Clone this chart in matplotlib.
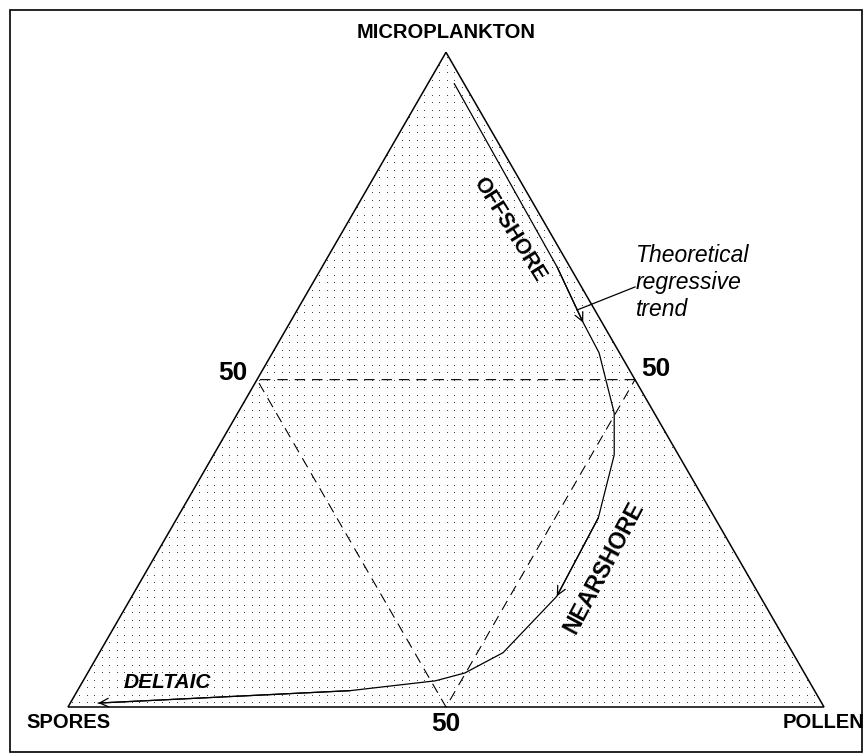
import numpy as np
import matplotlib
matplotlib.use("Agg")
import matplotlib.pyplot as plt
from matplotlib.patches import Polygon, Rectangle

plt.rcParams['font.family'] = ['Liberation Sans', 'DejaVu Sans']
plt.rcParams['lines.scale_dashes'] = False

# Ternary end members (apex, left, right)
apex_label = "MICROPLANKTON"
left_label = "SPORES"
right_label = "POLLEN"

# Theoretical regressive trend, % microplankton / % pollen (spores = rest)
trend_micro = [95.2, 67.2, 58.7, 54.1, 44.9, 38.5, 28.9, 16.9, 8.3, 5.2, 4.0, 2.5, 0.6]
trend_pollen = [3.5, 31.1, 38.8, 43.2, 49.8, 53.0, 55.7, 56.2, 53.4, 49.9, 46.6, 36.1, 3.7]
arrow_at = [2, 7, 12]

# 50 % lines between the side midpoints
mid_micro = [50, 50, 0, 50]
mid_pollen = [50, 0, 50, 50]

H = np.sqrt(3) / 2


def to_xy(micro, pollen):
    m = np.asarray(micro, float) / 100
    p = np.asarray(pollen, float) / 100
    return p + 0.5 * m, H * m


fig = plt.figure(figsize=(8.68, 7.55), dpi=100)
ax = fig.add_axes([0, 0, 1, 1])
ax.set_xlim(-68 / 756, 800 / 756)
ax.set_ylim(-48 / 756, 707 / 756)
ax.axis('off')

# outer frame
fig.patches.append(Rectangle((9.5 / 868, 3 / 755), (862 - 9.5) / 868, (745.5 - 3) / 755,
                             transform=fig.transFigure, fill=False, lw=1.2, ec='black'))

# triangle with dotted fill
tri = Polygon([[0, 0], [1, 0], [0.5, H]], closed=True, fill=False, ec='black', lw=1.1, zorder=3)
ax.add_patch(tri)
clip = Polygon([[0, 0], [1, 0], [0.5, H]], closed=True, transform=ax.transData)
step = 7.5 / 756
gx, gy = np.meshgrid(np.arange(step / 2, 1, step), np.arange(step / 2, H, step))
dots, = ax.plot(gx.ravel(), gy.ravel(), ',', color='#444444', zorder=1)
dots.set_clip_path(clip)

# dashed 50 % lines
mx, my = to_xy(mid_micro, mid_pollen)
ax.plot(mx, my, color='black', lw=0.8, dashes=(7.5, 5), zorder=2)

# trend curve and arrowheads
tx, ty = to_xy(trend_micro, trend_pollen)
ax.plot(tx, ty, color='black', lw=0.9, zorder=4)
for i in arrow_at:
    ax.annotate("", xy=(tx[i], ty[i]), xytext=(tx[i - 1], ty[i - 1]),
                arrowprops=dict(arrowstyle='->,head_length=0.45,head_width=0.22',
                                lw=0.9, color='black', shrinkA=0, shrinkB=0,
                                mutation_scale=14), zorder=4)

# vertex labels
ax.text(0.5, H + 0.026, apex_label, ha='center', va='center', fontsize=14.5, fontweight='bold')
ax.text(0, -0.021, left_label, ha='center', va='center', fontsize=14.5, fontweight='bold')
ax.text(1, -0.021, right_label, ha='center', va='center', fontsize=14.5, fontweight='bold')

# 50 % tick labels
ax.text(0.5, -0.022, "50", ha='center', va='center', fontsize=19, fontweight='bold')
ax.text(0.238, 0.442, "50", ha='right', va='center', fontsize=19, fontweight='bold')
ax.text(0.758, 0.447, "50", ha='left', va='center', fontsize=19, fontweight='bold')

# environment labels
ax.text(0.5833, 0.631, "OFFSHORE", rotation=-58, ha='center', va='center',
        fontsize=15.5, fontweight='bold', rotation_mode='anchor')
ax.text(0.709, 0.184, "NEARSHORE", rotation=62, ha='center', va='center',
        fontsize=16.5, fontweight='bold', rotation_mode='anchor')
ax.text(0.131, 0.032, "DELTAIC", ha='center', va='center',
        fontsize=15, fontweight='bold', style='italic')

# trend annotation with leader line
for k, line in enumerate(["Theoretical", "regressive", "trend"]):
    ax.text(0.7513, (707 - 262 - 27 * k) / 756, line, ha='left', va='baseline',
            fontsize=16.5, style='italic')
ax.plot([0.75, 0.6733], [0.5556, 0.5251], color='black', lw=0.9, zorder=4)

fig.savefig("out.png", dpi=100)
